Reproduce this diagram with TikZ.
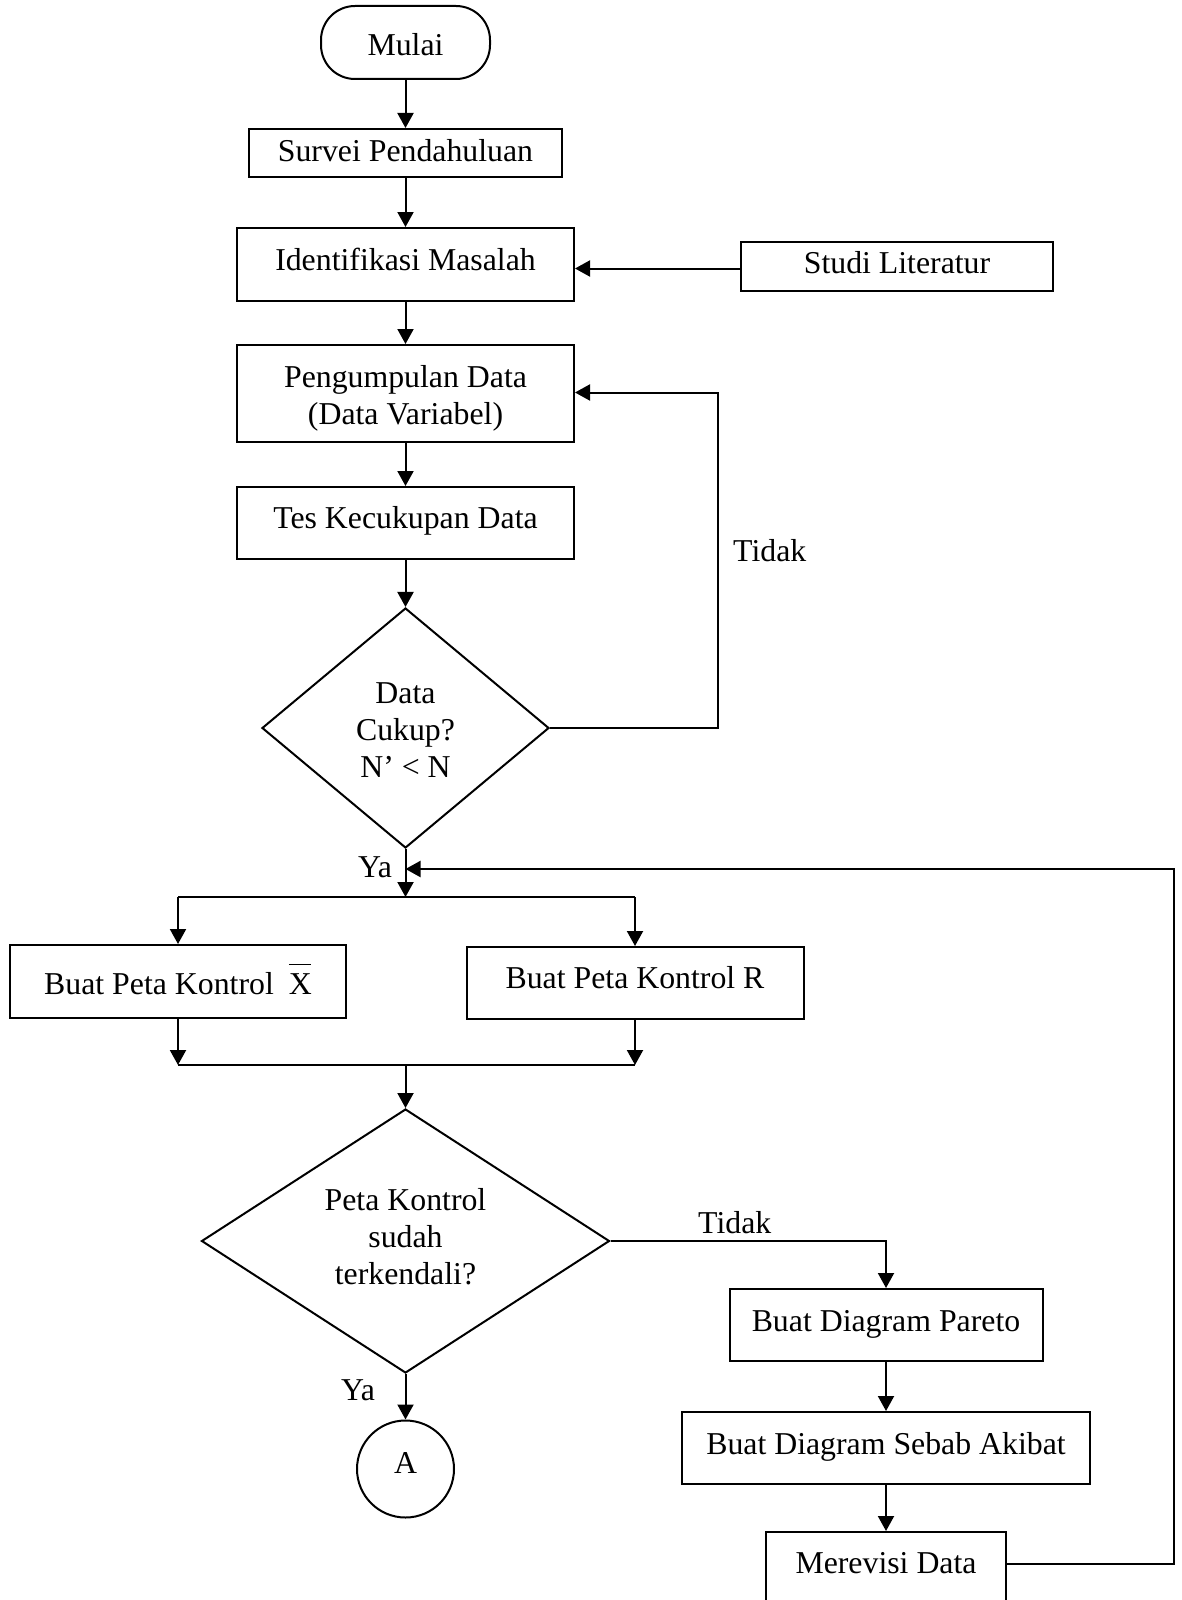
\documentclass[tikz,border=0pt]{standalone}
\usepackage{fontspec}
\setmainfont{Liberation Serif}
\usetikzlibrary{shapes.geometric,arrows.meta}

% Text block with zero height/depth, raised by #1 (pt) relative to the node centre;
% #2 may contain several lines separated by \\.
\newcommand{\boxtext}[2]{\raisebox{#1pt}[0pt][0pt]{\begin{tabular}[t]{@{}c@{}}#2\end{tabular}}}

\tikzset{
  shapebase/.style={draw, line width=2pt, inner sep=0pt,
    font=\fontsize{31.8}{37}\selectfont},
  proc/.style={shapebase, rectangle},
  term/.style={shapebase, rectangle, rounded corners=34pt},
  decide/.style={shapebase, diamond},
  conn/.style={shapebase, circle},
  lbl/.style={inner sep=0pt, font=\fontsize{31.8}{37}\selectfont},
  ln/.style={line width=2pt},
  arr/.style={line width=2pt, -{Triangle[length=15pt,width=16pt]}},
}

\begin{document}
\begin{tikzpicture}[x=1pt,y=-1pt]
\useasboundingbox (0,0) rectangle (1182,1600);

% main column
\node[term, minimum width=169pt, minimum height=73pt] (mulai) at (405.5,42.5) {\boxtext{-13.5}{Mulai}};
\node[proc, minimum width=313pt, minimum height=48pt] (survei) at (405.5,153) {\boxtext{-9}{Survei Pendahuluan}};
\node[proc, minimum width=337pt, minimum height=73pt] (ident) at (405.5,264.5) {\boxtext{-5.5}{Identifikasi Masalah}};
\node[proc, minimum width=312pt, minimum height=49pt] (studi) at (897,266.5) {\boxtext{-6.5}{Studi Literatur}};
\node[proc, minimum width=337pt, minimum height=97pt] (peng) at (405.5,393.5) {\boxtext{6.5}{Pengumpulan Data\\(Data Variabel)}};
\node[proc, minimum width=337pt, minimum height=72pt] (tes) at (405.5,523) {\boxtext{-5}{Tes Kecukupan Data}};
\node[decide, minimum width=287pt, minimum height=240pt] (dia1) at (405.5,728) {\boxtext{25}{Data\\Cukup?\\N’ < N}};

% control charts
\node[proc, minimum width=336pt, minimum height=73pt] (xbar) at (178,981.5)
  {\boxtext{-12.5}{Buat Peta Kontrol\hspace{0.47em}\makebox[0pt][l]{\raisebox{0.9em}{\rule{0.69em}{1.8pt}}}X}};
\node[proc, minimum width=337pt, minimum height=72pt] (rbox) at (635,983) {\boxtext{-5}{Buat Peta Kontrol R}};
\node[decide, minimum width=408pt, minimum height=264pt] (dia2) at (405.5,1241) {\boxtext{31}{Peta Kontrol\\sudah\\terkendali?}};
\node[conn, minimum size=97pt] (circA) at (405.5,1469) {\boxtext{-4}{A}};

% improvement column
\node[proc, minimum width=313pt, minimum height=72pt] (pareto) at (886,1325) {\boxtext{-6}{Buat Diagram Pareto}};
\node[proc, minimum width=408pt, minimum height=72pt] (sebab) at (886,1448) {\boxtext{-6}{Buat Diagram Sebab Akibat}};
\node[proc, minimum width=240pt, minimum height=70pt] (merevisi) at (886,1567) {\boxtext{-6}{Merevisi Data}};

% branch labels
\node[lbl, anchor=base west] (tidak1) at (733,561) {Tidak};
\node[lbl, anchor=base west] (ya1) at (358,877) {Ya};
\node[lbl, anchor=base west] (tidak2) at (698,1233) {Tidak};
\node[lbl, anchor=base west] (ya2) at (341,1400) {Ya};

% junction points
\coordinate (join) at (405.5,869);
\coordinate (split) at (405.5,897);
\coordinate (merge) at (405.5,1065);

% connectors
\draw[arr] (mulai) -- (survei);
\draw[arr] (survei) -- (ident);
\draw[arr] ([yshift=-2pt]studi.west) -- ([yshift=-2pt]studi.west -| ident.east);
\draw[arr] (ident) -- (peng);
\draw[arr] (peng) -- (tes);
\draw[arr] (tes) -- (dia1);
\draw[arr] (dia1.east) -- ++(168,0) |- ([yshift=1pt]peng.east);
\draw[arr] (dia1.south) -- (split);
\draw[arr] ([yshift=3pt]merevisi.east) -- ++(167,0) |- (join);

\draw[ln] (xbar |- split) -- (rbox |- split);
\draw[arr] (xbar |- split) -- (xbar.north);
\draw[arr] (rbox |- split) -- (rbox.north);
\draw[arr] (xbar.south) -- (xbar |- merge);
\draw[arr] (rbox.south) -- (rbox |- merge);
\draw[ln] (xbar |- merge) -- (rbox |- merge);
\draw[arr] (merge) -- (dia2.north);

\draw[arr] (dia2.east) -| (pareto.north);
\draw[arr] (pareto) -- (sebab);
\draw[arr] (sebab) -- (merevisi);
\draw[arr] (dia2.south) -- (circA.north);
\end{tikzpicture}
\end{document}
